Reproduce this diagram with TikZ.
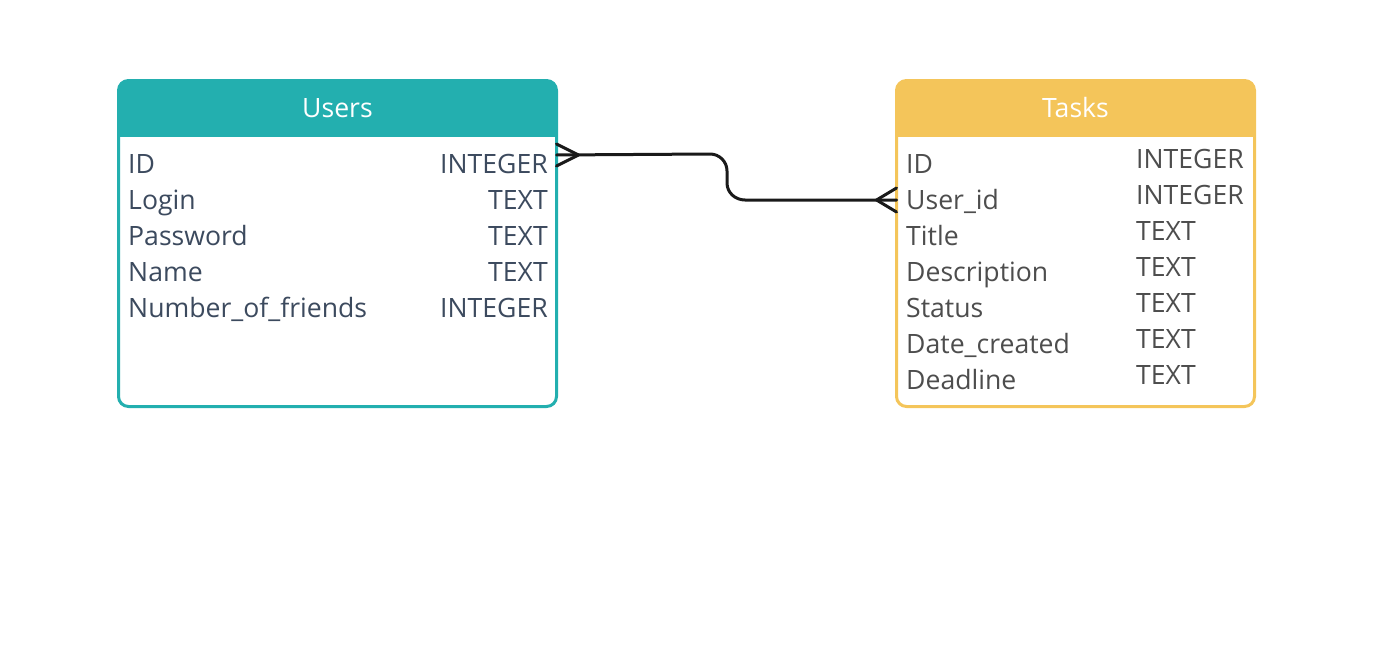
\documentclass[tikz,border=0pt]{standalone}
\usepackage{fontspec}
\setmainfont{Open Sans}
\definecolor{usercol}{HTML}{23AFAF}
\definecolor{taskcol}{HTML}{F4C55A}
\definecolor{userfont}{HTML}{3C4A5E}
\definecolor{taskfont}{HTML}{4D4D4D}
\definecolor{linkcol}{HTML}{1A1A1A}
\tikzset{
  tablebox/.style={draw=none, inner sep=0pt, outer sep=0pt},
  tabletitle/.style={anchor=base, text=white, font=\fontsize{26.6}{30}\selectfont},
  ufield/.style={anchor=base west, text=userfont, inner sep=0pt, font=\fontsize{26.6}{30}\selectfont},
  utype/.style={anchor=base east, text=userfont, inner sep=0pt, font=\fontsize{26.6}{30}\selectfont},
  tfield/.style={anchor=base west, text=taskfont, inner sep=0pt, font=\fontsize{26.6}{30}\selectfont},
  ttype/.style={anchor=base west, text=taskfont, inner sep=0pt, font=\fontsize{26.6}{30}\selectfont},
  rel/.style={draw=linkcol, line width=3pt, line cap=round, line join=round}
}
\begin{document}
\begin{tikzpicture}[x=1pt,y=-1pt]
\useasboundingbox (0,0) rectangle (1396,661);

% Users table
\node (users) [tablebox, minimum width=438pt, minimum height=326pt] at (337.5,243.5) {};
\fill[white, rounded corners=10pt] (users.north west) rectangle (users.south east);
\begin{scope}
\clip[rounded corners=10pt] (users.north west) rectangle (users.south east);
\fill[usercol] ([yshift=2pt]users.north west) rectangle ([yshift=-56.5pt]users.north east);
\end{scope}
\draw[usercol, line width=3pt, rounded corners=10pt] (users.north west) rectangle (users.south east);
\node (utitle) [tabletitle] at (337.5,117.5) {Users};
\node (uid) [ufield] at (128,173) {ID};
\node (ulogin) [ufield] at (128,209) {Login};
\node (upass) [ufield] at (128,245) {Password};
\node (uname) [ufield] at (128,281) {Name};
\node (ufriends) [ufield] at (128,317) {Number\_of\_friends};
\node (uidt) [utype] at (548,173) {INTEGER};
\node (ulogint) [utype] at (548,209) {TEXT};
\node (upasst) [utype] at (548,245) {TEXT};
\node (unamet) [utype] at (548,281) {TEXT};
\node (ufriendst) [utype] at (548,317) {INTEGER};

% Tasks table
\node (tasks) [tablebox, minimum width=358pt, minimum height=326pt] at (1075.5,243.5) {};
\fill[white, rounded corners=10pt] (tasks.north west) rectangle (tasks.south east);
\begin{scope}
\clip[rounded corners=10pt] (tasks.north west) rectangle (tasks.south east);
\fill[taskcol] ([yshift=2pt]tasks.north west) rectangle ([yshift=-56.5pt]tasks.north east);
\end{scope}
\draw[taskcol, line width=3pt, rounded corners=10pt] (tasks.north west) rectangle (tasks.south east);
\node (ttitle) [tabletitle] at (1075.5,117.5) {Tasks};
\node (tid) [tfield] at (906,173) {ID};
\node (tuser) [tfield] at (906,209) {User\_id};
\node (ttitlef) [tfield] at (906,245) {Title};
\node (tdesc) [tfield] at (906,281) {Description};
\node (tstatus) [tfield] at (906,317) {Status};
\node (tdate) [tfield] at (906,353) {Date\_created};
\node (tdead) [tfield] at (906,389) {Deadline};
\node (tidt) [ttype] at (1136,168) {INTEGER};
\node (tusert) [ttype] at (1136,204) {INTEGER};
\node (ttitlet) [ttype] at (1136,240) {TEXT};
\node (tdesct) [ttype] at (1136,276) {TEXT};
\node (tstatust) [ttype] at (1136,312) {TEXT};
\node (tdatet) [ttype] at (1136,348) {TEXT};
\node (tdeadt) [ttype] at (1136,384) {TEXT};

% relation users.ID -> tasks.User_id
\coordinate (ulink) at (users.east |- 0,155);
\coordinate (tlink) at (tasks.west |- 0,200);
\draw[rel] (ulink) -- (710,154) to[out=0,in=90] (727,171) -- (727,183) to[out=-90,in=180] (745,200) -- (tlink);
\draw[rel] ([yshift=11pt]ulink) -- ++(22,11) -- ++(-22,11);
\draw[rel] ([yshift=12pt]tlink) -- ++(-20,12) -- ++(20,12);
\end{tikzpicture}
\end{document}
